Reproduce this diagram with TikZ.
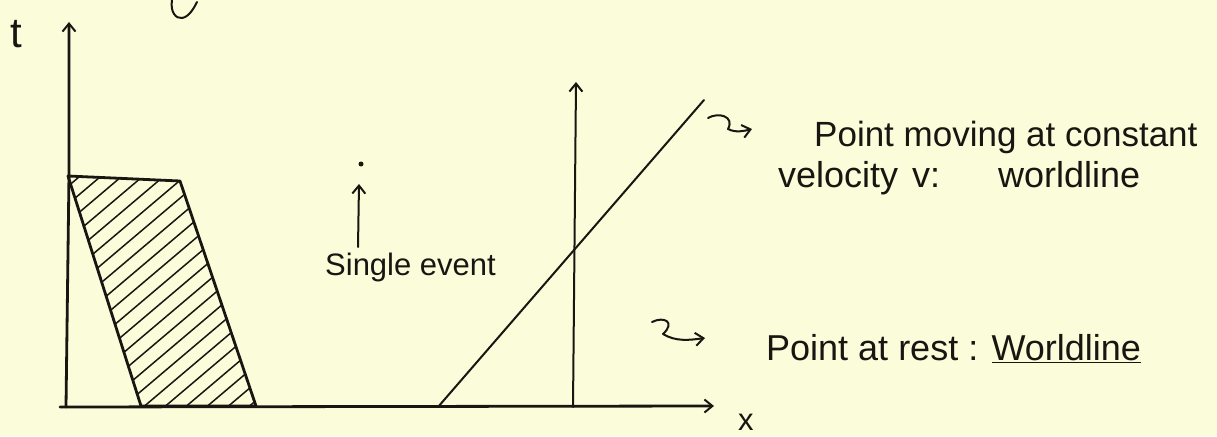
\documentclass[tikz,border=0pt]{standalone}
\usepackage{fontspec}
\setmainfont{Liberation Sans}
\usetikzlibrary{arrows.meta,calc}
\definecolor{paper}{RGB}{250,252,218}
\definecolor{ink}{RGB}{25,22,18}
\tikzset{
  pen/.style={draw=ink, line width=2.8pt, line cap=round, line join=round},
  thinpen/.style={draw=ink, line width=2pt, line cap=round, line join=round},
  hatch/.style={draw=ink, line width=1.5pt, line cap=round},
  arr/.style={-{Straight Barb[length=8pt,width=13pt,line width=2pt]}},
  lbl/.style={text=ink, font=\fontsize{36}{40}\selectfont, inner sep=0pt, anchor=base west},
  small/.style={lbl, font=\fontsize{31}{34}\selectfont},
}
\begin{document}
\begin{tikzpicture}[x=1pt,y=-1pt]
\fill[paper] (0,0) rectangle (1217,436);
\useasboundingbox (0,0) rectangle (1217,436);
% axes
\coordinate (o) at (66,407);
\coordinate (ttip) at (69,22);
\coordinate (xstart) at (60,407);
\coordinate (xtip) at (714,406);
\draw[pen,arr] (o) -- (69,175) -- (ttip);
\draw[pen,arr] (xstart) -- (xtip);
\node[lbl, font=\fontsize{42}{44}\selectfont] (tlab) at (10,48) {t};
\node[small] (xlab) at (738,430) {x};
% trapezoid
\coordinate (A) at (68,176);
\coordinate (B) at (180,181);
\coordinate (C) at (256,406);
\coordinate (D) at (141,406);
\begin{scope}
  \clip (A) -- (B) -- (C) -- (D) -- cycle;
  \foreach \s in {0,...,26} {
    \draw[hatch] ($(-250,420)+(\s*21,0)$) -- ++(300,-254);
  }
\end{scope}
\draw[pen] (A) -- (B) -- (C) -- (D) -- cycle;
% fragment of cropped text at top
\draw[thinpen] (172,0) .. controls (170,12) and (176,19) .. (182,18) .. controls (189,17) and (194,8) .. (197,2);
% single event
\node[circle, fill=ink, inner sep=0pt, minimum size=5pt] (ev) at (361,164) {};
\coordinate (evtail) at (358,247);
\draw[thinpen,arr] (evtail) -- (359,184);
\node[small] (evlab) at (325,275) {Single event};
% worldline at rest
\coordinate (rb) at (573,407);
\coordinate (rt) at (576,82);
\draw[thinpen,arr] (rb) -- (rt);
% moving worldline
\coordinate (mb) at (438,407);
\coordinate (mt) at (704,100);
\draw[thinpen] (mb) -- (mt);
% labels
\coordinate (s1) at (708,118);
\draw[thinpen,arr] (s1) .. controls (718,112) and (735,116) .. (728,129) .. controls (736,133) and (744,131) .. (752,129);
\node[lbl, font=\fontsize{35}{40}\selectfont] (mvlab1) at (814,146) {Point moving at constant};
\node[lbl] (mvlab2) at (778,187) {velocity};
\node[lbl] (mvlab3) at (912,187) {v:};
\node[lbl] (mvlab4) at (998,187) {worldline};
\coordinate (s2) at (652,322);
\draw[thinpen,arr] (s2) .. controls (664,316) and (676,322) .. (663,334) .. controls (676,342) and (690,340) .. (705,338);
\node[lbl] (rslab) at (766,360) {Point at rest : \underline{Worldline}};
\end{tikzpicture}
\end{document}
